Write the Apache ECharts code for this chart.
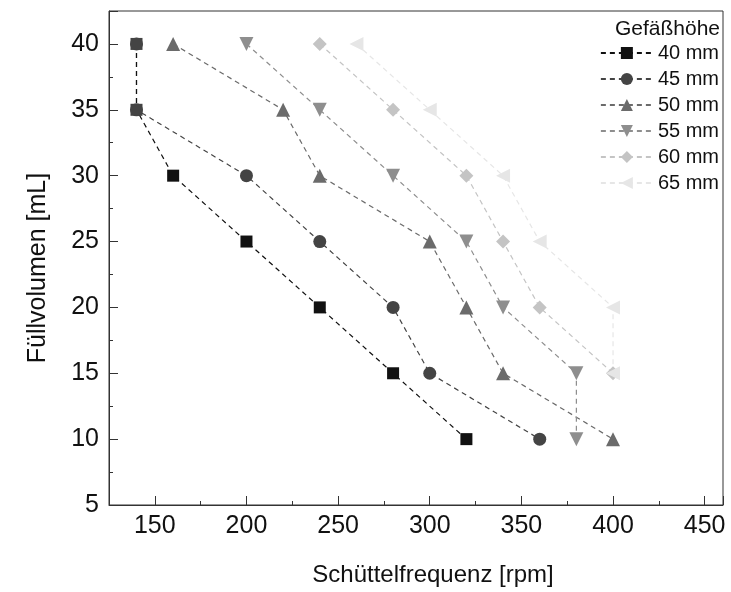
<!DOCTYPE html>
<html>
<head>
<meta charset="utf-8">
<script src="https://cdn.jsdelivr.net/npm/echarts@6/dist/echarts.min.js"></script>
<style>
html,body{margin:0;padding:0;background:#fff;}
#c{width:731px;height:592px;}
</style>
</head>
<body>
<div id="c"></div>
<script>
// Data
var seriesNames = ['40 mm', '45 mm', '50 mm', '55 mm', '60 mm', '65 mm'];
var s40 = [[140, 40], [140, 35], [160, 30], [200, 25], [240, 20], [280, 15], [320, 10]];
var s45 = [[140, 40], [140, 35], [200, 30], [240, 25], [280, 20], [300, 15], [360, 10]];
var s50 = [[160, 40], [220, 35], [240, 30], [300, 25], [320, 20], [340, 15], [400, 10]];
var s55 = [[200, 40], [240, 35], [280, 30], [320, 25], [340, 20], [380, 15], [380, 10]];
var s60 = [[240, 40], [280, 35], [320, 30], [340, 25], [360, 20], [400, 15]];
var s65 = [[260, 40], [300, 35], [340, 30], [360, 25], [400, 20], [400, 15]];
var legendTitle = 'Gefäßhöhe';
var xName = 'Schüttelfrequenz [rpm]';
var yName = 'Füllvolumen [mL]';

var colors = ['#111111', '#444444', '#6b6b6b', '#8e8e8e', '#c4c4c4', '#e6e6e6'];
var symbols = ['rect', 'circle', 'triangle', 'triangle', 'diamond', 'triangle'];
var rotates = [0, 0, 0, 180, 0, 90];
var sizes = [12, 13, 14, 14, 14, 14];
var allData = [s40, s45, s50, s55, s60, s65];

var FONT = 'Liberation Sans, Arial, sans-serif';

var series = allData.map(function (d, i) {
  var data = d.map(function (p) { return p.slice(); });
  if (i === 0) {
    data = d.map(function (p) {
      if (p[0] === 140) return { value: p.slice(), itemStyle: { color: '#444444' } };
      return p.slice();
    });
  }
  return {
    name: seriesNames[i],
    type: 'line',
    xAxisIndex: 0,
    yAxisIndex: 0,
    data: data,
    symbol: symbols[i],
    symbolRotate: rotates[i],
    symbolSize: sizes[i],
    z: i === 0 ? 5 : 2,
    color: colors[i],
    itemStyle: { color: colors[i], borderWidth: 0 },
    lineStyle: { color: colors[i], width: 1.2, type: [5, 4] },
    emphasis: { disabled: true },
    animation: false
  };
});

var chart = echarts.init(document.getElementById('c'), null, { renderer: 'canvas' });
chart.setOption({
  backgroundColor: '#fff',
  animation: false,
  title: {
    text: legendTitle,
    right: 11,
    top: 19,
    padding: 0,
    textStyle: { fontFamily: FONT, fontSize: 21, fontWeight: 'normal', color: '#111' }
  },
  legend: {
    orient: 'vertical',
    right: 12,
    top: 43,
    padding: 0,
    itemGap: 6,
    itemWidth: 52,
    itemHeight: 15,
    data: seriesNames,
    textStyle: { fontFamily: FONT, fontSize: 20, color: '#111', lineHeight: 20 }
  },
  grid: {
    left: 109, right: 8, top: 11, bottom: 87,
    show: true, borderColor: '#333', borderWidth: 1, backgroundColor: 'transparent'
  },
  xAxis: [{
    type: 'value',
    min: 125, max: 460, splitNumber: 5,
    position: 'bottom',
    name: xName, nameLocation: 'middle', nameGap: 58,
    nameTextStyle: { fontFamily: FONT, fontSize: 24, color: '#111', padding: [0, 0, 0, 34] },
    axisLine: { show: true, lineStyle: { color: '#333', width: 1 } },
    axisTick: { show: true, inside: true, length: 9, lineStyle: { color: '#333' } },
    axisLabel: {
      fontFamily: FONT, fontSize: 25, color: '#111', margin: 9,
      formatter: function (v) { return v % 50 === 0 ? String(v) : ''; }
    },
    splitLine: { show: false }
  }, {
    type: 'value',
    min: 125, max: 460, interval: 25,
    position: 'bottom',
    axisLine: { show: false },
    axisTick: { show: true, inside: true, length: 4, lineStyle: { color: '#333' } },
    axisLabel: { show: false },
    splitLine: { show: false }
  }],
  yAxis: [{
    type: 'value',
    min: 5, max: 42.5, interval: 5,
    position: 'left',
    name: yName, nameLocation: 'middle', nameGap: 58,
    nameTextStyle: { fontFamily: FONT, fontSize: 25, color: '#111', padding: [0, 20, 0, 0] },
    axisLine: { show: true, lineStyle: { color: '#333', width: 1 } },
    axisTick: { show: true, inside: true, length: 9, lineStyle: { color: '#333' } },
    axisLabel: {
      fontFamily: FONT, fontSize: 25, color: '#111', margin: 10,
      formatter: function (v) { return v % 5 === 0 ? String(v) : ''; }
    },
    splitLine: { show: false }
  }, {
    type: 'value',
    min: 5, max: 42.5, interval: 2.5,
    position: 'left',
    axisLine: { show: false },
    axisTick: { show: true, inside: true, length: 4, lineStyle: { color: '#333' } },
    axisLabel: { show: false },
    splitLine: { show: false }
  }],
  series: series
});
</script>
</body>
</html>
